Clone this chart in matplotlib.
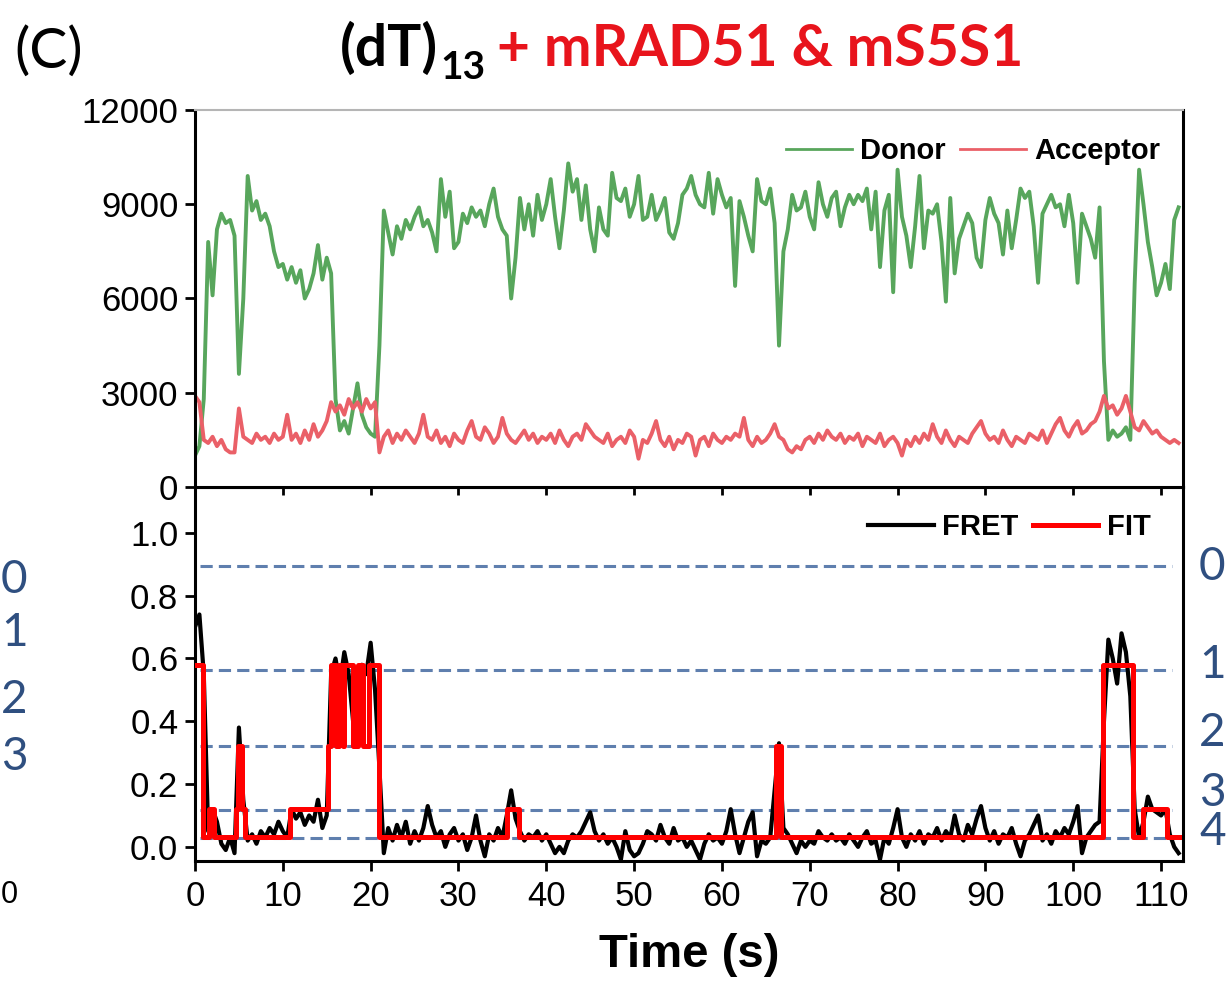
import matplotlib
matplotlib.use("Agg")
import matplotlib.pyplot as plt
import numpy as np

plt.rcParams['font.family'] = ['Liberation Sans', 'DejaVu Sans']

# traces every 0.5 s
dt = 0.5

donor = [
    1000, 1300, 2800, 7800, 6100, 8200, 8700, 8400, 8500, 8000, 3600, 6000, 9900, 8800, 9100, 8500, 8700, 8300, 7500, 7000,
    7100, 6600, 7000, 6500, 6900, 6000, 6300, 6800, 7700, 6600, 7300, 6800, 2800, 1800, 2100, 1700, 2500, 3300, 2300, 1900,
    1700, 1600, 4500, 8800, 8100, 7400, 8300, 7900, 8500, 8200, 8600, 8900, 8300, 8500, 8100, 7500, 9800, 8600, 9400, 7600,
    7800, 8700, 8400, 8900, 8600, 8800, 8300, 9000, 9500, 8600, 8200, 8000, 6000, 7300, 9200, 8200, 9000, 8000, 9300, 8500,
    9000, 9800, 8600, 7600, 8800, 10300, 9400, 9800, 8500, 9600, 8200, 7500, 8900, 8200, 8000, 10000, 9200, 9100, 9500, 8600,
    9000, 9900, 8500, 8600, 9300, 8500, 8800, 9200, 8100, 7900, 8400, 9300, 9500, 9900, 9300, 9000, 8900, 10000, 8700, 9800,
    9300, 8900, 9200, 6400, 9100, 8600, 8000, 7500, 9800, 9100, 9000, 9500, 8400, 4500, 7500, 8200, 9300, 8800, 8900, 9400,
    8600, 8200, 9700, 9000, 8600, 9200, 9400, 8300, 8900, 9300, 9000, 9300, 9100, 9500, 8200, 9400, 7000, 8800, 9300, 6200,
    10100, 8600, 8000, 7000, 8300, 9900, 7600, 8800, 8700, 9000, 7800, 5900, 9200, 6800, 7900, 8300, 8700, 8400, 7300, 7000,
    8500, 9200, 8700, 8400, 7400, 8800, 7600, 8500, 9500, 9200, 9400, 8300, 6500, 8700, 9000, 9300, 8900, 9000, 8300, 9300,
    8400, 6500, 8700, 8300, 7900, 7300, 8900, 4000, 1500, 1800, 1600, 1700, 1900, 1500, 6500, 10100, 9000, 7800, 7000, 6100,
    6500, 7100, 6300, 8500, 8900,
]

acceptor = [
    2900, 2700, 1500, 1400, 1600, 1300, 1500, 1200, 1100, 1100, 2500, 1600, 1500, 1400, 1700, 1500, 1600, 1400, 1700, 1500,
    1600, 2300, 1500, 1700, 1400, 1800, 1500, 2000, 1600, 1800, 2100, 2700, 2400, 2600, 2300, 2800, 2500, 2700, 2400, 2800,
    2500, 2700, 1100, 1600, 1800, 1400, 1700, 1500, 1800, 1600, 1400, 1700, 2300, 1600, 1500, 1800, 1400, 1600, 1300, 1700,
    1500, 1400, 1800, 2100, 1600, 1500, 1900, 1700, 1400, 1600, 2200, 1700, 1500, 1400, 1600, 1800, 1500, 1700, 1400, 1600,
    1500, 1700, 1400, 1800, 1500, 1300, 1600, 1700, 1500, 2000, 1800, 1600, 1500, 1400, 1700, 1300, 1500, 1600, 1400, 1800,
    1600, 900, 1500, 1400, 1700, 2100, 1500, 1300, 1600, 1200, 1500, 1400, 1700, 1600, 1000, 1500, 1600, 1300, 1700, 1500,
    1400, 1600, 1500, 1700, 1600, 2200, 1500, 1300, 1600, 1400, 1500, 1700, 2000, 1600, 1500, 1200, 1100, 1300, 1200, 1500,
    1600, 1400, 1700, 1500, 1800, 1600, 1500, 1700, 1400, 1600, 1500, 1700, 1300, 1600, 1500, 1400, 1700, 1300, 1500, 1600,
    1400, 1000, 1500, 1300, 1600, 1400, 1700, 1500, 2000, 1600, 1400, 1800, 1500, 1300, 1600, 1500, 1400, 1700, 1900, 2100,
    1700, 1500, 1600, 1400, 1800, 1500, 1300, 1600, 1500, 1400, 1700, 1600, 1500, 1800, 1400, 1700, 2000, 2200, 1800, 1600,
    1900, 2100, 1700, 1800, 2000, 2100, 2400, 2900, 2500, 2600, 2300, 2500, 2900, 2400, 1900, 1800, 2100, 1900, 1700, 1800,
    1600, 1500, 1400, 1500, 1400,
]

fret = [
    0.70, 0.74, 0.55, 0.05, 0.12, 0.08, 0.01, -0.01, 0.03, -0.02, 0.38, 0.15, 0.02, 0.04, 0.01, 0.05, 0.03, 0.06, 0.04, 0.08,
    0.05, 0.03, 0.12, 0.09, 0.11, 0.07, 0.10, 0.08, 0.15, 0.06, 0.10, 0.55, 0.60, 0.52, 0.62, 0.55, 0.40, 0.35, 0.58, 0.55,
    0.65, 0.50, 0.25, -0.02, 0.06, 0.02, 0.07, 0.03, 0.08, 0.01, 0.05, 0.02, 0.06, 0.13, 0.07, 0.03, 0.05, 0.00, 0.04, 0.06,
    0.02, 0.04, -0.01, 0.03, 0.10, 0.02, -0.03, 0.04, 0.02, 0.06, 0.03, 0.10, 0.18, 0.09, 0.05, 0.02, 0.04, 0.03, 0.05, 0.02,
    0.04, 0.01, -0.02, 0.00, -0.02, 0.02, 0.04, 0.03, 0.05, 0.08, 0.11, 0.05, 0.02, 0.04, 0.01, 0.03, 0.00, -0.04, 0.05, -0.01,
    -0.03, -0.02, 0.01, 0.05, 0.04, 0.02, 0.07, 0.03, 0.01, 0.06, 0.02, 0.03, 0.00, 0.02, -0.01, -0.04, 0.01, 0.04, 0.02, 0.03,
    0.01, 0.05, 0.12, 0.04, -0.02, 0.03, 0.08, 0.11, -0.03, 0.02, 0.01, 0.03, 0.18, 0.33, 0.06, 0.04, 0.01, -0.02, 0.02, 0.00,
    0.02, 0.01, 0.05, 0.03, 0.02, 0.04, 0.02, 0.03, 0.01, 0.04, 0.02, 0.00, 0.03, 0.05, 0.01, 0.02, -0.04, 0.03, 0.01, 0.06,
    0.12, 0.03, 0.00, 0.04, 0.02, 0.05, 0.01, 0.04, 0.03, 0.06, 0.02, 0.05, 0.03, 0.10, 0.04, 0.02, 0.07, 0.04, 0.09, 0.13,
    0.06, 0.02, 0.05, 0.01, 0.04, 0.03, 0.06, 0.01, -0.03, 0.02, 0.04, 0.07, 0.10, 0.02, 0.04, 0.01, 0.05, 0.03, 0.06, 0.04,
    0.08, 0.13, -0.02, 0.03, 0.05, 0.07, 0.08, 0.40, 0.66, 0.60, 0.52, 0.68, 0.62, 0.48, 0.12, 0.03, 0.08, 0.16, 0.12, 0.11,
    0.10, 0.12, 0.04, 0.00, -0.02,
]

# idealised fit: start time of each dwell and its FRET level
fit_start = [0, 0.95, 1.6, 2.2, 4.7, 4.9, 5.4, 5.65, 10.8, 15.1,
             15.5, 16.1, 16.4, 16.8, 17.0, 17.95, 18.6, 19.1, 19.8, 21.0,
             35.5, 36.9, 66.1, 66.7, 103.4, 106.8, 108.0, 110.7]
fit_level = [0.58, 0.03, 0.12, 0.03, 0.12, 0.32, 0.12, 0.03, 0.12, 0.32,
             0.58, 0.32, 0.58, 0.32, 0.58, 0.32, 0.58, 0.32, 0.58, 0.03,
             0.12, 0.03, 0.32, 0.03, 0.58, 0.03, 0.12, 0.03]
t_end = 112.0

state_fret = [0.895, 0.564, 0.322, 0.116, 0.027]
state_names = ['0', '1', '2', '3', '4']

green = '#58a65c'
pink = '#ea6068'
slate = '#5f7fae'
navy = '#2f4f80'

W, H = 1230, 983
fig = plt.figure(figsize=(W / 100, H / 100), dpi=100)

def box(l, t, r, b):
    return [l / W, 1 - b / H, (r - l) / W, (b - t) / H]

# bottom panel first so the top panel's tick marks land on it
ax2 = fig.add_axes(box(195, 487, 1183, 861))
ax1 = fig.add_axes(box(195, 110, 1183, 487))

t = np.arange(len(donor)) * dt

ax1.plot(t, donor, color=green, lw=2.8, label='Donor')
ax1.plot(t, acceptor, color=pink, lw=2.8, label='Acceptor')
ax1.set_xlim(0, 112.5)
ax1.set_ylim(0, 12000)
ax1.set_yticks([0, 3000, 6000, 9000, 12000])
ax1.set_xticks(np.arange(0, 111, 10))
ax1.tick_params(axis='x', bottom=True, labelbottom=False, direction='out', length=6, width=2)
ax1.tick_params(axis='y', direction='out', length=7, width=2, labelsize=25, pad=5)
for s in ['left', 'right', 'bottom']:
    ax1.spines[s].set_linewidth(2.2)
ax1.spines['top'].set_color('#b5b5b5')
ax1.spines['top'].set_linewidth(1.5)
leg1 = ax1.legend(loc='center right', bbox_to_anchor=(0.977, 0.891), ncol=2, frameon=False,
                  prop={'size': 21, 'weight': 'bold'}, handlelength=2.25, handletextpad=0.28,
                  columnspacing=0.5, borderpad=0, borderaxespad=0)
for h in leg1.get_lines():
    h.set_linewidth(2.0)

ax2.hlines(state_fret, 0.6, 111.3, colors=slate, linestyles=(0, (4, 2)), lw=2.2, zorder=1)
tf = np.arange(len(fret)) * dt
ax2.plot(tf, fret, color='black', lw=3.0, label='FRET', zorder=2)
ax2.step(fit_start + [t_end], fit_level + [fit_level[-1]], where='post',
         color='#ff0000', lw=3.6, label='FIT', zorder=3)
ax2.set_xlim(0, 112.5)
ax2.set_ylim(-0.045, 1.146)
ax2.set_yticks([0.0, 0.2, 0.4, 0.6, 0.8, 1.0])
ax2.set_yticklabels(['0.0', '0.2', '0.4', '0.6', '0.8', '1.0'])
ax2.set_xticks(np.arange(0, 111, 10))
ax2.tick_params(axis='both', direction='out', length=7, width=2, labelsize=25)
ax2.tick_params(axis='x', pad=7)
ax2.tick_params(axis='y', pad=5)
for s in ax2.spines.values():
    s.set_linewidth(2.2)
ax2.set_xlabel('Time (s)', fontsize=34, fontweight='bold', labelpad=14)
ax2.legend(loc='center right', bbox_to_anchor=(0.967, 0.893), ncol=2, frameon=False,
           prop={'size': 21, 'weight': 'bold'}, handlelength=2.25, handletextpad=0.28,
           columnspacing=0.5, borderpad=0, borderaxespad=0)

# state labels beside the dashed lines
right_y = [567, 665, 733, 793, 832]
for name, py in zip(state_names, right_y):
    fig.text(1199 / W, 1 - py / H, name, fontsize=33, family='Lato', color=navy,
             ha='left', va='center')
left_y = [580, 633, 700, 757]
for name, py in zip(state_names[:4], left_y):
    fig.text(1 / W, 1 - py / H, name, fontsize=33, family='Lato', color=navy,
             ha='left', va='center')
fig.text(1 / W, 1 - 895 / H, '0', fontsize=22, color='black', ha='left', va='center')

fig.text(14 / W, 1 - 68 / H, '(C)', fontsize=41, family='Lato', ha='left', va='baseline')

# title: black (dT) with subscript, red remainder
fig.canvas.draw()
rend = fig.canvas.get_renderer()
yb = 1 - 66 / H
t1 = fig.text(340 / W, yb, '(dT)', fontsize=41, family='Lato', fontweight='bold',
              color='black', va='baseline')
x = t1.get_window_extent(rend).x1 + 2
t2 = fig.text(x / W, yb - 13 / H, '13', fontsize=28, family='Lato', fontweight='bold',
              color='black', va='baseline')
x = t2.get_window_extent(rend).x1 + 12
fig.text(x / W, yb, '+ mRAD51 & mS5S1', fontsize=41, family='Lato', fontweight='bold',
         color='#e8141c', va='baseline')

fig.savefig('out.png', dpi=100)
